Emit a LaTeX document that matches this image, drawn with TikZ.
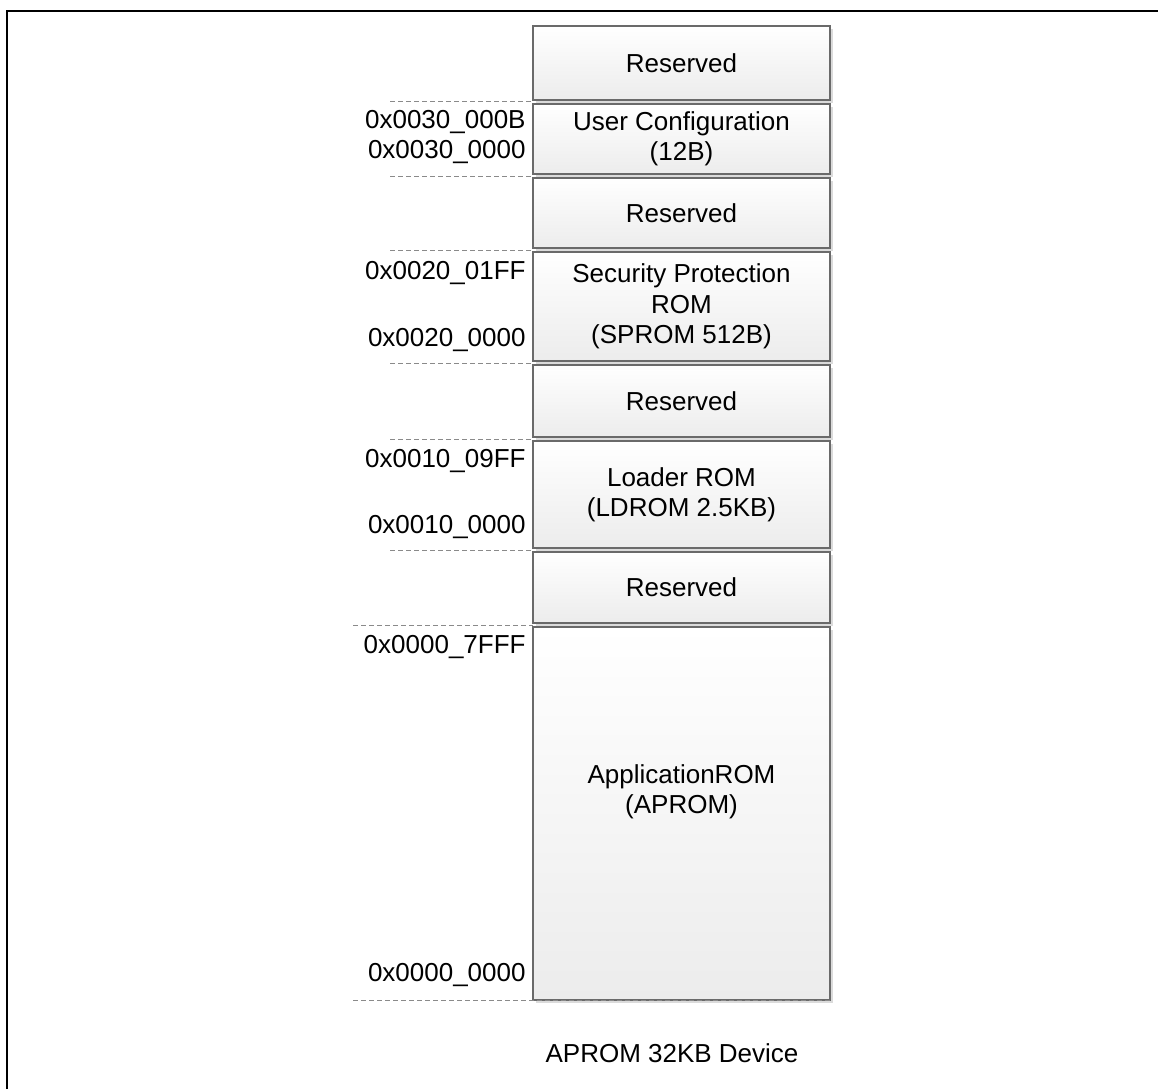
\documentclass[tikz,border=0pt]{standalone}
\usepackage{fontspec}
\setmainfont{Liberation Sans}
\usetikzlibrary{positioning,shadows}
\definecolor{Edge}{HTML}{6A6A6A}
\definecolor{Shade}{HTML}{ECECEC}
\definecolor{Guide}{HTML}{8A8A8A}
\tikzset{
  membox/.style={draw=Edge,line width=0.6pt,top color=white,bottom color=Shade,
    minimum width=148.5pt,inner sep=0pt,align=center,
    drop shadow={shadow xshift=1.6pt,shadow yshift=-1.6pt,fill=black!14,opacity=1}},
  addr/.style={anchor=east,inner sep=0pt},
  guide/.style={draw=Guide,line width=0.5pt,dash pattern=on 2.5pt off 1.5pt},
}
\newcommand{\MemBlock}[4]{%
  \node[membox,minimum height={(#3-#2)*0.5pt}] (#1) at (681.5,{(#2+#3)/2}) {#4};%
}
\begin{document}
\begin{tikzpicture}[x=0.5pt,y=-0.5pt,font=\fontsize{13pt}{15.2pt}\selectfont]
\useasboundingbox (0,0) rectangle (1158,1089);
\draw[line width=1pt] (7,1089) -- (7,11) -- (1158,11);
% memory blocks
\MemBlock{res1}{26}{100}{Reserved}
\MemBlock{ucfg}{104}{174}{User Configuration\\(12B)}
\MemBlock{res2}{178}{248}{Reserved}
\MemBlock{sprom}{252}{361}{Security Protection\\ROM\\(SPROM 512B)}
\MemBlock{res3}{365}{437}{Reserved}
\MemBlock{ldrom}{441}{548}{Loader ROM\\(LDROM 2.5KB)}
\MemBlock{res4}{552}{623}{Reserved}
\MemBlock{aprom}{627}{1000}{}
\node[align=center] (aptxt) at (681.5,792) {ApplicationROM\\(APROM)};
% guide lines
\foreach \y in {101,176,250,363,439,550} {
  \draw[guide] (390,\y) -- (533,\y);
}
\draw[guide] (353,625) -- (533,625);
\draw[guide] (353,1000) -- (830,1000);
% addresses
\node[addr] (ucfghi) at (526,122) {0x0030\_000B};
\node[addr] (ucfglo) at (526,152) {0x0030\_0000};
\node[addr] (spromhi) at (526,273) {0x0020\_01FF};
\node[addr] (spromlo) at (526,340) {0x0020\_0000};
\node[addr] (ldromhi) at (526,461) {0x0010\_09FF};
\node[addr] (ldromlo) at (526,527) {0x0010\_0000};
\node[addr] (apromhi) at (526,647) {0x0000\_7FFF};
\node[addr] (apromlo) at (526,975) {0x0000\_0000};
\node (caption) at (672,1053) {APROM 32KB Device};
\end{tikzpicture}
\end{document}
